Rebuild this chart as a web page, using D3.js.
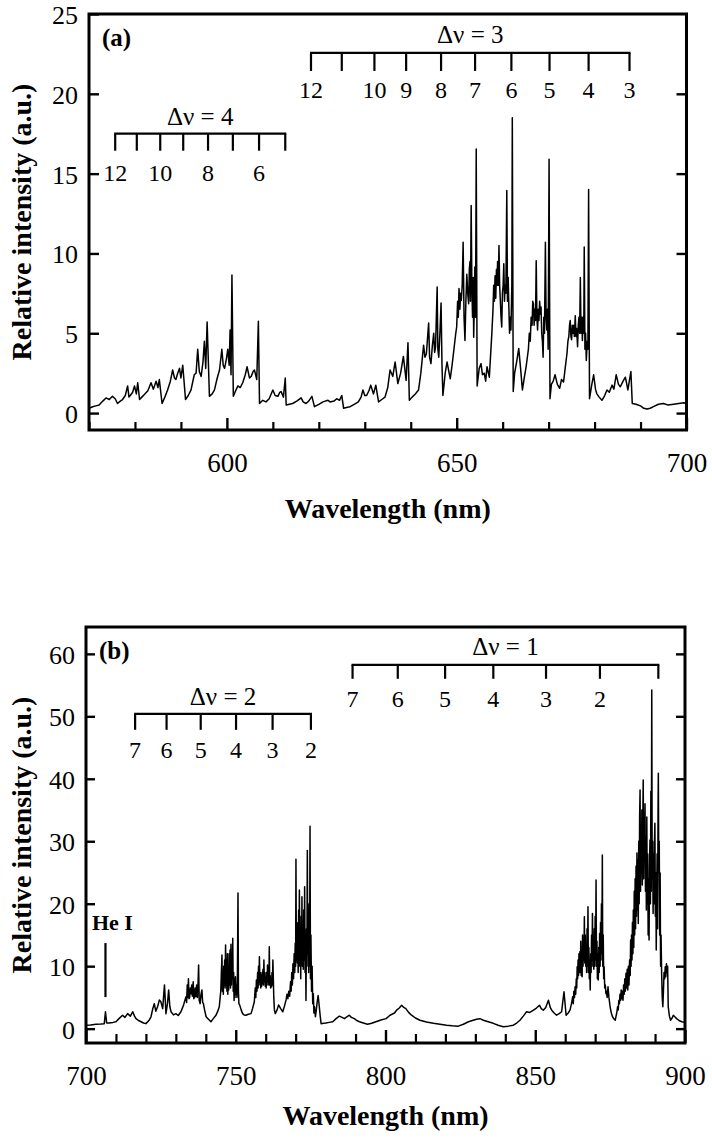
<!DOCTYPE html>
<html>
<head>
<meta charset="utf-8">
<script src="https://cdn.jsdelivr.net/npm/d3@7/dist/d3.min.js"></script>
<style>
  html, body { margin: 0; padding: 0; background: #fff; }
  svg { display: block; }
  svg text { font-family: "Liberation Serif", "Times New Roman", Tinos, "DejaVu Serif", serif !important; }
</style>
</head>
<body>
<svg id="chart" width="712" height="1141"></svg>
<script>
// ---------------- DATA ----------------
// Panel (a): [wavelength (nm), relative intensity (a.u.)]
const spectrumA = [
[570.0,0.30],[570.8,0.40],[571.5,0.45],[572.2,0.50],[573.0,0.75],[573.7,0.95],[574.4,0.85],[575.1,1.05],[575.7,0.90],[576.2,0.60],
[576.8,0.75],[577.3,0.85],[577.9,1.10],[578.4,1.70],[578.7,1.00],[579.1,1.15],[579.5,1.30],[579.9,1.70],[580.3,1.20],[580.6,1.90],
[581.0,0.85],[581.5,1.00],[582.0,1.15],[582.8,1.40],[583.5,1.90],[584.0,1.50],[584.6,2.00],[585.0,1.60],[585.3,2.10],[585.9,0.60],
[586.5,1.00],[587.1,1.45],[587.7,2.00],[588.2,2.70],[588.6,2.20],[588.9,2.10],[589.3,2.50],[589.7,2.80],[590.0,2.20],[590.4,3.00],
[591.0,0.85],[591.6,1.10],[592.2,1.45],[592.9,2.40],[593.3,2.50],[593.65,4.00],[594.0,2.60],[594.4,2.30],[594.8,3.20],[595.1,4.50],
[595.4,2.80],[595.7,5.70],[596.2,1.05],[596.8,1.20],[597.3,1.45],[597.9,2.20],[598.4,2.70],[598.9,4.00],[599.2,3.00],[599.5,2.80],
[599.9,3.40],[600.2,4.00],[600.5,3.00],[600.7,5.20],[600.9,2.40],[601.1,8.65],[601.4,1.05],[601.9,1.40],[602.4,1.70],[602.9,1.60],
[603.45,1.90],[604.0,2.40],[604.4,2.90],[604.9,2.20],[605.3,2.30],[605.7,2.60],[606.0,2.70],[606.5,2.10],[606.85,5.75],[607.1,0.60],
[607.8,0.80],[608.5,0.70],[609.2,0.90],[610.0,1.45],[610.5,1.10],[611.1,1.05],[611.5,1.30],[611.8,1.35],[612.3,1.00],[612.7,2.20],
[612.9,0.50],[613.6,0.55],[614.3,0.60],[615.2,0.75],[616.15,0.95],[616.6,0.70],[617.2,0.60],[617.8,0.75],[618.5,1.05],[619.05,0.40],
[620.0,0.55],[620.9,0.70],[622.0,0.80],[622.46,0.70],[623.3,0.75],[623.9,0.90],[624.5,0.80],[625.0,1.10],[625.4,0.30],[626.0,0.35],
[626.8,0.40],[627.7,0.55],[628.6,0.70],[629.2,1.00],[629.6,1.45],[630.0,1.10],[630.4,1.10],[630.9,1.40],[631.3,1.75],[631.9,1.20],
[632.4,1.75],[633.0,0.70],[633.7,0.85],[634.4,1.00],[635.0,1.60],[635.5,2.70],[636.1,2.30],[636.6,3.20],[637.2,1.85],[637.8,2.50],
[638.4,3.55],[639.0,2.05],[639.4,4.40],[639.7,0.80],[640.3,1.00],[641.0,1.20],[641.7,1.45],[642.2,2.50],[642.8,4.25],[643.1,3.50],
[643.4,3.70],[643.9,5.65],[644.1,3.50],[644.4,3.10],[644.7,4.20],[645.0,5.00],[645.2,3.80],[645.4,4.15],[645.75,7.90],[645.9,4.00],
[646.1,3.50],[646.35,5.00],[646.6,6.90],[646.8,3.00],[647.0,1.10],[647.5,2.50],[647.9,3.20],[648.3,2.60],[648.6,2.15],[649.0,3.00],
[649.5,4.25],[649.8,5.00],[650.0,5.40],[650.2,7.00],[650.35,6.00],[650.5,7.80],[650.7,6.50],[650.85,7.50],[651.0,7.05],[651.2,8.00],
[651.4,10.70],[651.6,6.00],[651.8,4.55],[652.0,7.00],[652.2,8.70],[652.4,7.50],[652.6,6.85],[652.75,9.00],[652.9,9.50],[653.0,7.00],
[653.15,13.00],[653.3,8.00],[653.45,6.00],[653.6,8.50],[653.7,4.75],[653.85,7.00],[653.95,9.15],[654.1,6.00],[654.25,16.55],[654.45,1.70],
[654.9,2.80],[655.3,3.10],[655.6,2.40],[656.0,2.50],[656.3,2.00],[656.6,2.90],[657.1,2.25],
[657.65,5.00],[657.9,6.50],[658.05,8.00],[658.2,7.00],[658.35,8.60],[658.5,7.20],[658.65,9.00],[658.75,8.00],[658.9,9.50],[659.05,8.00],
[659.2,10.50],[659.35,8.00],[659.5,7.00],[659.65,6.00],[659.8,5.40],[659.95,7.50],[660.1,8.00],[660.25,9.35],[660.4,7.00],[660.55,8.00],
[660.7,7.50],[660.9,13.95],[661.05,7.00],[661.2,8.50],[661.35,6.65],[661.5,5.00],[661.65,6.00],[661.8,5.20],[662.0,8.00],[662.1,18.50],
[662.3,1.35],[662.6,2.50],[663.1,3.30],[663.5,4.05],[663.9,2.80],[664.3,1.45],[664.7,2.20],[665.1,2.90],
[665.6,4.00],[665.8,5.00],[666.0,4.50],[666.2,6.00],[666.4,5.50],[666.55,7.00],[666.7,6.85],[666.85,5.50],[667.0,6.50],[667.15,5.80],
[667.3,9.55],[667.45,6.00],[667.6,5.20],[667.75,6.50],[667.9,5.80],[668.05,7.00],[668.2,6.20],[668.35,6.65],[668.5,5.00],[668.65,4.50],
[668.8,3.50],[668.95,6.00],[669.1,5.00],[669.3,10.70],[669.45,6.00],[669.6,5.20],[669.75,6.50],[669.9,4.00],[670.1,15.90],[670.3,0.90],
[670.6,1.80],[671.0,2.00],[671.4,2.40],[671.9,1.80],[672.4,1.55],[672.8,2.10],[673.25,1.95],[673.6,2.80],
[674.0,3.75],[674.2,4.50],[674.4,4.80],[674.55,5.50],[674.7,5.80],[674.85,4.80],[675.0,4.60],[675.15,5.50],[675.3,5.00],[675.45,5.50],
[675.6,4.80],[675.8,6.10],[675.95,4.80],[676.1,5.30],[676.3,4.15],[676.45,5.50],[676.6,6.00],[676.75,5.00],[676.9,8.50],[677.05,5.00],
[677.2,6.00],[677.35,4.55],[677.5,6.00],[677.65,5.00],[677.75,10.40],[677.9,4.00],[678.05,5.00],[678.2,3.30],[678.4,4.50],[678.55,4.00],
[678.7,14.00],[678.9,0.90],[679.4,1.80],[679.8,2.40],[680.2,1.50],[680.5,1.20],[681.0,1.00],[681.6,0.80],[682.2,1.10],[682.7,1.45],
[683.2,1.30],[683.8,1.75],[684.2,1.50],[684.7,2.40],[685.2,1.80],[685.6,1.65],[686.2,2.00],[686.7,2.25],[687.25,1.45],[687.9,2.60],
[688.2,0.60],[689.0,0.55],[690.0,0.45],[690.7,0.30],[691.4,0.25],[692.1,0.30],[692.8,0.40],[693.9,0.55],[695.0,0.60],[696.0,0.50],
[697.2,0.55],[698.3,0.60],[699.4,0.65],[700.0,0.60]
];

// Panel (b): [wavelength (nm), relative intensity (a.u.)]
const spectrumB = [
[700.0,0.55],[701.5,0.60],[703.3,0.70],[705.0,0.75],[706.1,0.80],[706.5,2.70],[706.9,0.90],[707.6,0.90],[709.0,1.00],[710.0,1.10],
[711.0,1.60],[712.2,2.15],[713.0,1.80],[713.9,2.40],[714.8,2.00],[715.6,2.70],[716.2,2.00],[716.7,1.60],[717.5,1.30],[718.4,1.10],
[719.2,0.90],[720.0,0.80],[721.0,1.30],[721.7,1.90],[722.3,3.20],[722.8,4.00],[723.3,2.80],[723.9,3.50],[724.5,4.60],[725.0,4.30],
[725.6,3.20],[726.2,7.00],[726.7,2.40],[727.2,4.00],[727.6,6.20],[728.0,3.50],[728.4,2.70],[729.2,2.20],[730.0,2.40],[730.8,2.10],
[731.7,2.70],[732.6,3.80],[733.0,4.50],[733.4,5.10],[733.6,4.20],[733.8,7.00],[734.0,5.00],[734.2,8.00],[734.4,4.80],[734.6,5.00],
[734.85,6.50],[735.1,5.60],[735.3,7.00],[735.5,5.20],[735.8,7.50],[736.0,4.80],[736.2,5.00],[736.45,6.50],[736.7,5.10],[736.95,7.00],
[737.2,5.00],[737.4,7.00],[737.6,10.20],[737.8,4.50],[738.1,4.00],[738.4,5.50],[738.7,6.20],[738.95,4.20],[739.2,4.00],[739.6,3.00],
[740.1,1.90],[740.9,1.50],[741.7,1.10],[742.5,1.60],[743.4,2.15],[744.0,2.80],
[744.5,3.50],[744.8,5.00],[745.0,6.00],[745.2,9.00],[745.4,11.80],[745.55,6.00],[745.7,9.00],[745.85,5.50],[746.0,10.00],[746.15,7.00],
[746.3,11.00],[746.45,6.50],[746.6,13.40],[746.75,7.00],[746.9,11.00],[747.05,6.00],[747.2,12.00],[747.35,5.50],[747.5,9.00],[747.65,6.20],
[747.8,12.00],[747.95,7.00],[748.1,12.60],[748.25,6.50],[748.4,13.50],[748.55,7.00],[748.7,11.00],[748.85,8.00],[749.0,14.45],[749.15,6.00],
[749.3,9.00],[749.45,4.50],[749.6,8.00],[749.75,5.00],[749.9,8.30],[750.05,5.50],[750.2,7.00],[750.4,5.00],[750.55,8.00],[750.75,21.70],
[750.9,6.00],[751.05,4.00],[751.3,3.80],[751.8,3.00],[752.3,2.40],[752.8,2.20],[753.4,2.15],[754.2,2.30],[755.1,2.40],[755.6,3.20],
[756.2,4.30],[756.5,6.50],[756.7,5.00],[756.9,7.80],[757.1,6.00],[757.3,9.00],[757.45,6.50],[757.6,10.00],[757.75,7.00],[757.9,11.50],
[758.05,7.50],[758.2,9.00],[758.35,6.50],[758.5,8.50],[758.65,6.80],[758.8,9.00],[758.95,7.20],[759.1,9.50],[759.25,7.00],[759.4,11.00],
[759.55,7.50],[759.7,9.00],[759.85,6.80],[760.0,8.00],[760.15,6.50],[760.3,9.00],[760.45,7.00],[760.6,10.20],[760.75,7.50],[760.9,9.00],
[761.05,7.00],[761.2,13.10],[761.35,7.00],[761.5,8.50],[761.65,6.50],[761.8,8.00],[761.95,6.70],[762.1,9.00],[762.25,7.00],[762.4,11.00],
[762.55,8.00],[762.7,5.00],[762.9,3.00],[763.2,2.40],[763.8,3.00],[764.3,3.80],[765.0,3.20],[765.7,2.70],[766.2,3.50],
[766.8,4.60],[767.1,5.50],[767.4,4.80],[767.7,6.00],[768.0,5.20],[768.3,7.50],[768.5,6.00],[768.7,9.00],[768.9,7.00],[769.1,10.40],
[769.3,8.00],[769.5,12.00],[769.7,9.00],[769.85,13.65],[770.0,10.00],[770.1,27.10],[770.25,11.00],[770.4,17.00],[770.55,10.50],[770.7,16.85],
[770.85,9.00],[771.0,19.00],[771.1,12.00],[771.25,22.20],[771.4,10.00],[771.55,15.00],[771.7,8.00],[771.85,18.00],[772.0,12.00],[772.1,21.10],
[772.25,10.00],[772.4,16.00],[772.55,9.50],[772.7,19.00],[772.85,11.00],[773.0,22.70],[773.15,9.00],[773.3,14.00],[773.45,4.50],[773.6,16.00],
[773.75,10.00],[773.9,28.50],[774.05,12.00],[774.2,18.00],[774.35,9.00],[774.5,20.00],[774.65,10.00],[774.8,32.40],[774.95,8.00],[775.1,15.00],
[775.3,6.00],[775.5,10.00],[775.7,4.00],[775.9,5.60],[776.1,2.50],[776.3,3.50],[776.6,1.90],[776.9,3.00],[777.2,4.30],[777.5,5.30],
[777.9,3.50],[778.2,2.00],[778.5,0.80],[779.3,0.85],[780.1,0.90],[781.2,1.00],[782.4,1.10],[783.5,1.60],[784.6,2.00],[785.5,1.80],
[786.3,1.60],[787.1,1.90],[787.9,2.15],[788.6,1.80],[789.6,1.60],[790.4,1.30],[791.3,1.10],[792.6,0.90],[794.0,0.70],[795.4,0.85],
[796.8,1.10],[798.2,1.35],[800.2,1.60],[801.5,2.15],[803.0,2.50],[803.7,2.95],[804.6,3.30],[805.4,3.75],[806.1,3.40],[806.8,3.20],
[807.7,2.60],[808.7,2.15],[810.0,1.70],[811.5,1.35],[813.7,1.05],[816.0,0.85],[818.2,0.70],[820.4,0.55],[822.3,0.45],[824.3,0.40],
[826.0,0.70],[827.7,1.10],[829.0,1.30],[830.4,1.50],[831.5,1.60],[832.7,1.35],[834.3,1.10],[836.0,0.85],[837.6,0.55],[839.3,0.30],
[841.0,0.40],[842.7,0.55],[843.8,0.90],[844.9,1.35],[846.0,2.00],[847.1,2.70],[848.2,2.60],[849.4,2.95],[850.4,3.30],[851.4,3.75],
[852.0,3.20],[852.7,2.95],[853.5,3.40],[854.4,4.55],[855.0,3.40],[855.5,2.95],[856.3,2.50],[857.1,2.15],[858.0,2.40],[858.8,2.70],
[859.6,5.90],[860.3,2.15],[861.0,2.50],[861.6,2.95],[862.1,4.00],
[862.5,5.10],[862.7,4.00],[862.9,6.00],[863.1,5.00],[863.3,6.70],[863.5,5.50],[863.7,8.00],[863.85,6.50],[864.0,9.90],[864.15,8.00],
[864.3,11.00],[864.45,8.50],[864.6,12.00],[864.75,9.00],[864.9,12.30],[865.05,9.00],[865.2,14.00],[865.35,8.50],[865.5,12.00],[865.65,8.30],
[865.8,15.00],[865.95,10.00],[866.1,14.00],[866.25,11.00],[866.4,17.90],[866.55,10.50],[866.7,15.00],[866.85,10.00],[867.0,13.00],[867.15,9.00],
[867.3,16.00],[867.45,10.00],[867.6,19.50],[867.75,9.00],[867.9,13.00],[868.05,8.00],[868.2,11.00],[868.35,6.20],[868.5,12.00],[868.65,9.00],
[868.8,15.00],[868.95,11.00],[869.1,18.45],[869.25,10.00],[869.4,14.00],[869.55,9.50],[869.7,16.00],[869.85,10.00],[870.0,18.00],[870.15,11.00],
[870.3,23.80],[870.45,10.00],[870.6,14.00],[870.75,8.00],[870.9,12.00],[871.05,7.80],[871.2,13.00],[871.35,9.00],[871.5,15.25],[871.65,10.00],
[871.8,17.00],[871.95,11.00],[872.1,20.00],[872.25,12.00],[872.4,27.80],[872.55,10.00],[872.7,15.00],[872.85,8.00],[873.0,9.90],[873.2,6.50],
[873.4,7.00],[873.6,5.60],[873.8,6.00],[874.0,5.00],[874.3,6.70],[874.6,5.00],[875.0,3.50],[875.4,2.50],[875.8,1.90],[876.2,1.60],
[876.7,1.35],[877.2,2.50],[877.5,3.50],[877.7,3.00],[877.9,4.50],[878.1,4.00],[878.3,5.50],[878.5,4.50],[878.7,6.20],[878.9,4.80],
[879.1,6.00],[879.3,4.55],[879.5,7.00],[879.7,5.50],[879.9,8.00],[880.1,6.00],[880.3,8.85],[880.5,6.50],[880.7,9.50],[880.9,6.20],
[881.1,10.00],[881.3,7.00],[881.5,11.00],[881.7,8.50],[881.85,14.20],[882.0,10.00],[882.15,15.00],[882.3,11.00],[882.45,17.00],[882.6,12.00],
[882.75,19.00],[882.9,13.00],[883.05,22.00],[883.2,15.00],[883.35,24.00],[883.5,16.00],[883.65,26.00],[883.8,18.00],[883.95,28.10],[884.1,19.00],
[884.25,27.00],[884.4,16.85],[884.55,30.00],[884.7,20.00],[884.85,34.00],[885.0,38.20],[885.15,22.00],[885.3,30.00],[885.45,24.90],[885.6,35.00],
[885.75,23.00],[885.9,33.00],[886.05,39.80],[886.2,24.00],[886.35,34.00],[886.5,27.50],[886.65,36.00],[886.8,22.00],[886.95,30.00],[887.1,19.00],
[887.25,33.90],[887.4,20.00],[887.55,28.00],[887.7,15.00],[887.85,24.00],[888.0,14.20],[888.15,26.00],[888.3,30.20],[888.45,20.00],[888.6,38.00],
[888.75,22.00],[888.9,54.20],[889.05,24.00],[889.2,30.00],[889.35,18.45],[889.5,28.00],[889.65,20.00],[889.8,30.00],[889.95,32.90],[890.1,18.00],
[890.25,25.00],[890.4,12.60],[890.55,22.00],[890.7,28.00],[890.85,16.00],[891.0,35.00],[891.1,40.90],[891.25,25.00],[891.4,30.00],[891.55,15.00],
[891.7,24.90],[891.85,10.00],[892.0,15.00],[892.2,8.85],[892.4,5.00],[892.6,3.50],[892.8,6.00],[893.0,9.00],[893.2,8.00],[893.4,9.90],
[893.6,8.30],[893.8,10.40],[894.0,9.00],[894.2,10.00],[894.4,3.50],[894.8,2.00],[895.2,1.35],[895.7,1.70],[896.1,2.15],[896.6,1.90],
[897.2,1.60],[898.0,1.30],[898.9,1.10],[900.0,1.00]
];

// Axis ticks
const xTicksA = [600, 650, 700];
const yTicksA = [0, 5, 10, 15, 20, 25];
const xTicksB = [700, 750, 800, 850, 900];
const yTicksB = [0, 10, 20, 30, 40, 50, 60];

// Band-head annotations (wavelength, label)
const dv4Waves = [575.7, 580.4, 585.5, 590.5, 595.9, 601.3, 607.0, 612.7];
const dv4Labels = ["12", "", "10", "", "8", "", "6", ""];
const dv3Waves = [618.3, 625.0, 632.1, 639.0, 646.6, 654.0, 661.9, 670.2, 678.7, 687.6];
const dv3Labels = ["12", "", "10", "9", "8", "7", "6", "5", "4", "3"];
const dv2Waves = [716.4, 726.9, 738.3, 750.1, 762.3, 775.1];
const dv2Labels = ["7", "6", "5", "4", "3", "2"];
const dv1Waves = [789.0, 804.1, 819.9, 836.0, 853.6, 871.6, 891.1];
const dv1Labels = ["7", "6", "5", "4", "3", "2", ""];
const heLineWave = 706.5;

// ---------------- DRAWING ----------------
const FONT = "Liberation Serif, Times New Roman, serif";
const svg = d3.select("#chart");
svg.append("rect").attr("width", 712).attr("height", 1141).attr("fill", "#fff");

function drawPanel(cfg) {
  const g = svg.append("g");
  const x = d3.scaleLinear().domain(cfg.xDomain).range([cfg.left, cfg.right]);
  const y = d3.scaleLinear().domain(cfg.yDomain).range([cfg.bottom, cfg.top]);
  const clipId = "clip" + cfg.name;
  svg.append("clipPath").attr("id", clipId).append("rect")
    .attr("x", cfg.left).attr("y", cfg.top)
    .attr("width", cfg.right - cfg.left).attr("height", cfg.bottom - cfg.top);

  // spectrum
  g.append("path").datum(cfg.data)
    .attr("clip-path", `url(#${clipId})`)
    .attr("fill", "none").attr("stroke", "#000").attr("stroke-width", 1.5)
    .attr("stroke-linejoin", "round")
    .attr("d", d3.line().x(d => x(d[0])).y(d => y(d[1])));

  // minor x ticks
  const minor = d3.range(cfg.xDomain[0], cfg.xDomain[1] + 0.01, 10)
    .filter(v => !cfg.xTicks.includes(v));
  g.append("g").attr("transform", `translate(0,${cfg.bottom})`)
    .call(d3.axisBottom(x).tickValues(minor).tickSize(-cfg.minorLen).tickFormat(""))
    .call(s => s.select(".domain").remove())
    .call(s => s.selectAll("line").attr("stroke-width", 2.2));
  // major x ticks + labels
  g.append("g").attr("transform", `translate(0,${cfg.bottom})`)
    .call(d3.axisBottom(x).tickValues(cfg.xTicks).tickSize(-cfg.majorLen).tickFormat(d3.format("d")))
    .call(s => s.select(".domain").remove())
    .call(s => s.selectAll("line").attr("stroke-width", 2.4))
    .call(s => s.selectAll("text").attr("y", cfg.xLabelOff).attr("dy", null)
      .attr("font-family", FONT).attr("font-size", cfg.xFont).attr("fill", "#000"));

  // y ticks left + labels
  g.append("g").attr("transform", `translate(${cfg.left},0)`)
    .call(d3.axisLeft(y).tickValues(cfg.yTicks).tickSize(-cfg.yTickLen).tickFormat(d3.format("d")))
    .call(s => s.select(".domain").remove())
    .call(s => s.selectAll("line").attr("stroke-width", 2.4))
    .call(s => s.selectAll("text").attr("x", -cfg.yLabelOff).attr("dy", "0.36em")
      .attr("font-family", FONT).attr("font-size", cfg.yFont).attr("fill", "#000"));
  // y ticks right
  g.append("g").attr("transform", `translate(${cfg.right},0)`)
    .call(d3.axisRight(y).tickValues(cfg.yTicks.filter(v => y(v) > cfg.top + 3)).tickSize(-cfg.yTickLen).tickFormat(""))
    .call(s => s.select(".domain").remove())
    .call(s => s.selectAll("line").attr("stroke-width", 2.4));

  // frame
  g.append("rect").attr("x", cfg.left).attr("y", cfg.top)
    .attr("width", cfg.right - cfg.left).attr("height", cfg.bottom - cfg.top)
    .attr("fill", "none").attr("stroke", "#000").attr("stroke-width", 3);

  // axis titles
  g.append("text").attr("x", (cfg.left + cfg.right) / 2).attr("y", cfg.xTitleY)
    .attr("text-anchor", "middle").attr("font-family", FONT).attr("font-weight", "bold")
    .attr("font-size", 28).text("Wavelength (nm)");
  g.append("text")
    .attr("transform", `translate(${cfg.yTitleX},${(cfg.top + cfg.bottom) / 2}) rotate(-90)`)
    .attr("text-anchor", "middle").attr("font-family", FONT).attr("font-weight", "bold")
    .attr("font-size", 28).text("Relative intensity (a.u.)");

  // panel letter
  g.append("text").attr("x", cfg.left + 13).attr("y", cfg.letterY)
    .attr("font-family", FONT).attr("font-weight", "bold").attr("font-size", 25)
    .text(cfg.letter);

  // band annotations
  cfg.bands.forEach(b => {
    const by = y(b.level);
    const xs = b.waves.map(w => x(w));
    const ag = g.append("g");
    ag.append("line").attr("x1", xs[0] - 1).attr("x2", xs[xs.length - 1] + 1)
      .attr("y1", by).attr("y2", by).attr("stroke", "#000").attr("stroke-width", 2.2);
    ag.selectAll("line.t").data(b.waves).join("line").attr("class", "t")
      .attr("x1", d => x(d)).attr("x2", d => x(d))
      .attr("y1", by).attr("y2", by + b.tick)
      .attr("stroke", "#000").attr("stroke-width", 2.2);
    ag.selectAll("text.n").data(b.waves.map((w, i) => [w, b.labels[i]])).join("text").attr("class", "n")
      .attr("x", d => x(d[0])).attr("y", by + b.labOff)
      .attr("text-anchor", "middle").attr("font-family", FONT).attr("font-size", 24)
      .text(d => d[1]);
    ag.append("text").attr("x", (xs[0] + xs[xs.length - 1]) / 2).attr("y", by - b.titleOff)
      .attr("text-anchor", "middle").attr("font-family", FONT).attr("font-size", 25)
      .text(b.title);
  });

  return { g, x, y };
}

drawPanel({
  name: "A", letter: "(a)",
  data: spectrumA,
  xDomain: [570, 700], yDomain: [-1.06, 25],
  left: 89, right: 686.5, top: 14, bottom: 430,
  xTicks: xTicksA, yTicks: yTicksA,
  minorLen: 8, majorLen: 12, yTickLen: 10,
  xFont: 27, yFont: 26, xLabelOff: 42, yLabelOff: 11,
  xTitleY: 518, yTitleX: 31, letterY: 46,
  bands: [
    { title: "Δν = 4", waves: dv4Waves, labels: dv4Labels, level: 17.5, tick: 17, labOff: 47, titleOff: 9 },
    { title: "Δν = 3", waves: dv3Waves, labels: dv3Labels, level: 22.56, tick: 18, labOff: 45, titleOff: 10 }
  ]
});

const pB = drawPanel({
  name: "B", letter: "(b)",
  data: spectrumB,
  xDomain: [700, 900], yDomain: [-2.3, 64.3],
  left: 86, right: 685, top: 627, bottom: 1043,
  xTicks: xTicksB, yTicks: yTicksB,
  minorLen: 9, majorLen: 13, yTickLen: 9,
  xFont: 27, yFont: 26, xLabelOff: 42, yLabelOff: 11,
  xTitleY: 1125, yTitleX: 31, letterY: 659,
  bands: [
    { title: "Δν = 2", waves: dv2Waves, labels: dv2Labels, level: 50.4, tick: 16, labOff: 44, titleOff: 9 },
    { title: "Δν = 1", waves: dv1Waves, labels: dv1Labels, level: 58.25, tick: 14, labOff: 42, titleOff: 10 }
  ]
});

// He I marker
pB.g.append("line").attr("x1", pB.x(heLineWave)).attr("x2", pB.x(heLineWave))
  .attr("y1", pB.y(13.7)).attr("y2", pB.y(5.05)).attr("stroke", "#000").attr("stroke-width", 2.2);
pB.g.append("text").attr("x", pB.x(702)).attr("y", pB.y(15.8))
  .attr("font-family", FONT).attr("font-weight", "bold").attr("font-size", 22).text("He I");
</script>
</body>
</html>
